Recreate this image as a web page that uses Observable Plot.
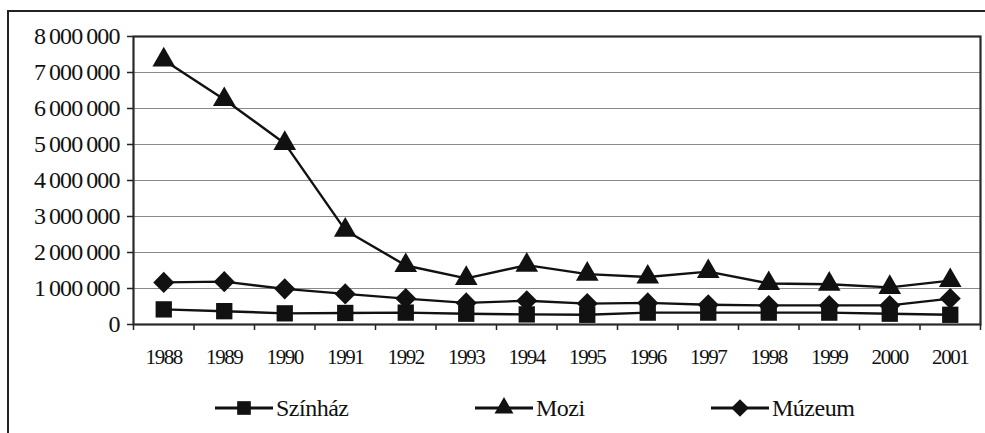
<!DOCTYPE html>
<html>
<head>
<meta charset="utf-8">
<script src="https://cdn.jsdelivr.net/npm/d3@7"></script>
<script src="https://cdn.jsdelivr.net/npm/@observablehq/plot@0.6"></script>
<style>
  html, body { margin: 0; padding: 0; background: #fff; }
  #wrap { position: relative; width: 985px; height: 433px; overflow: hidden; font-family: "Liberation Serif", "DejaVu Serif", serif; }
  #border { position: absolute; left: 7px; top: 10px; width: 1000px; height: 460px; border: 2px solid #222; box-sizing: border-box; }
  #chart { position: absolute; left: 0; top: 0; }
  #chart svg text { font-family: "Liberation Serif", "DejaVu Serif", serif; }
  .legend-item { position: absolute; top: 394px; height: 28px; display: flex; align-items: center; font-size: 24px; letter-spacing: -0.5px; color: #111; font-family: "Liberation Serif", "DejaVu Serif", serif; }
  .legend-item svg { display: block; margin-right: 3px; }
</style>
</head>
<body>
<div id="wrap">
  <div id="border"></div>
  <div id="chart"></div>
</div>
<script>
const years = [1988, 1989, 1990, 1991, 1992, 1993, 1994, 1995, 1996, 1997, 1998, 1999, 2000, 2001];
const seriesNames = ["Színház", "Mozi", "Múzeum"];
const szinhaz = [420000, 370000, 310000, 320000, 330000, 300000, 280000, 270000, 330000, 330000, 330000, 330000, 300000, 270000];
const mozi = [7350000, 6250000, 5030000, 2620000, 1640000, 1280000, 1650000, 1400000, 1320000, 1470000, 1140000, 1120000, 1030000, 1220000];
const muzeum = [1170000, 1190000, 990000, 850000, 720000, 600000, 660000, 580000, 600000, 550000, 530000, 530000, 530000, 720000];
const yTicks = [0, 1000000, 2000000, 3000000, 4000000, 5000000, 6000000, 7000000, 8000000];

const symbols = {"Színház": "square", "Mozi": "triangle", "Múzeum": "diamond2"};
const radii = {"Színház": 9.2, "Mozi": 8.4, "Múzeum": 9.5};

const valuesBySeries = [szinhaz, mozi, muzeum];
const data = [];
seriesNames.forEach((s, i) => years.forEach((y, j) => data.push({series: s, year: y, value: valuesBySeries[i][j]})));

const edges = years.map(y => y - 0.5).concat([years[years.length - 1] + 0.5]);
const fmt = d => d3.format(",")(d).replace(/,/g, "\u2009");

const dotMarks = seriesNames.map(s => Plot.dot(data.filter(d => d.series === s), {
  x: "year", y: "value", symbol: () => symbols[s], r: radii[s], fill: "#111", stroke: "none"
}));

const chart = Plot.plot({
  width: 985,
  height: 433,
  marginLeft: 133,
  marginRight: 5,
  marginTop: 36,
  marginBottom: 109,
  style: {fontFamily: "Liberation Serif, DejaVu Serif, serif", color: "#111", background: "transparent"},
  x: {domain: [edges[0], edges[edges.length - 1]]},
  y: {domain: [0, 8000000]},
  symbol: {type: "identity"},
  marks: [
    Plot.gridY(yTicks, {stroke: "#8a8a8a", strokeOpacity: 1, strokeWidth: 1}),
    Plot.axisY({ticks: yTicks, tickFormat: fmt, tickSize: 6, tickPadding: 8, fontSize: 24, label: null, stroke: "#222", strokeWidth: 1.5}),
    Plot.axisX({ticks: years, tickSize: 0, tickPadding: 25, tickFormat: d => String(d), fontSize: 21, label: null}),
    Plot.axisX({ticks: edges, tickSize: 6, tickFormat: () => "", label: null, stroke: "#222", strokeWidth: 1.5}),
    Plot.frame({stroke: "#2a2a2a", strokeWidth: 2.2}),
    Plot.line(data, {x: "year", y: "value", z: "series", stroke: "#111", strokeWidth: 2.4}),
    ...dotMarks
  ]
});
chart.querySelectorAll("g[aria-label='y-axis tick label'] text").forEach(t => t.setAttribute("letter-spacing", "-0.9"));
chart.querySelectorAll("g[aria-label='x-axis tick label'] text").forEach(t => t.setAttribute("letter-spacing", "-1.4"));
document.getElementById("chart").appendChild(chart);

// Legend
const legendLeft = [215, 475, 711];
const wrap = document.getElementById("wrap");
seriesNames.forEach((s, i) => {
  const item = document.createElement("div");
  item.className = "legend-item";
  item.style.left = legendLeft[i] + "px";
  const r = radii[s];
  const sym = d3.symbol(s === "Színház" ? d3.symbolSquare : s === "Mozi" ? d3.symbolTriangle : d3.symbolDiamond2, Math.PI * r * r * 0.7)();
  item.innerHTML = `<svg width="58" height="28"><line x1="0" x2="58" y1="14" y2="14" stroke="#111" stroke-width="3"/><path d="${sym}" transform="translate(29,14)" fill="#111"/></svg><span>${s}</span>`;
  wrap.appendChild(item);
});
</script>
</body>
</html>
